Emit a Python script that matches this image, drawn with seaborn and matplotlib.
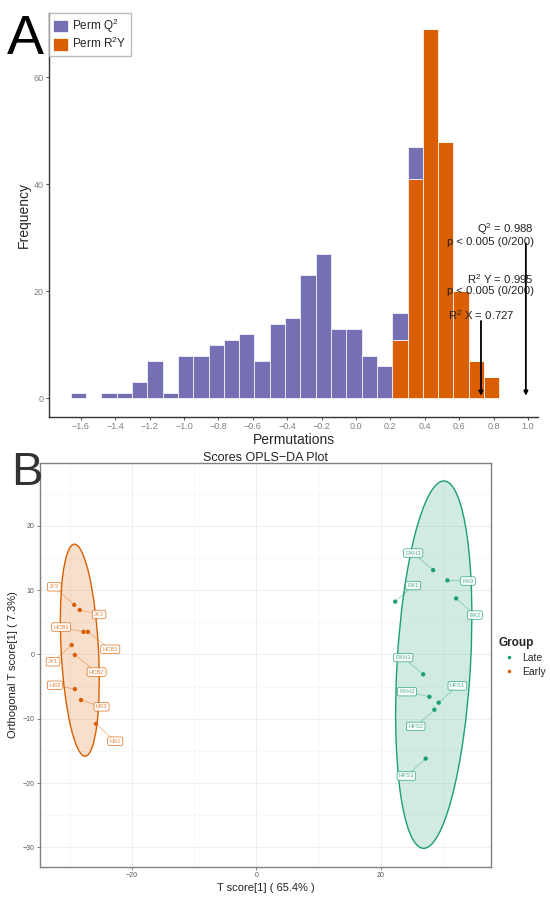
import numpy as np
import pandas as pd
import matplotlib
matplotlib.use("Agg")
import matplotlib.pyplot as plt
from matplotlib.patches import Ellipse
import seaborn as sns

# ── Panel A data: permutation test histogram ──────────────
bin_lo, bin_hi, n_bins = -1.658, 0.834, 28
perm_q2 = [1, 0, 1, 1, 3, 7, 1, 8, 8, 10, 11, 12, 7, 14, 15, 23, 27, 13, 13, 8, 6,
           5, 6, 0, 0, 0, 0, 0]
perm_r2y = [0] * 21 + [11, 41, 69, 48, 20, 7, 4]
q2_value, r2y_value, r2x_value = 0.988, 0.995, 0.727
perm_labels = ["Perm Q$^2$", "Perm R$^2$Y"]

# ── Panel B data: OPLS-DA scores ──────────────────────────
sample_names = ["JY3", "JY2", "HCB3", "HCB1", "JY1", "HCB2", "HS2", "HS3", "HS1",
                "RXH3", "RX3", "RX1", "RX2", "RXH1", "RXH2", "HFS1", "HFS2", "HFS3"]
t_score = [-29.3, -28.4, -27.8, -27.1, -29.7, -29.2, -29.2, -28.2, -25.8,
           28.4, 30.7, 22.3, 32.1, 26.8, 27.8, 29.3, 28.6, 27.2]
ortho_score = [7.7, 6.9, 3.5, 3.5, 1.45, -0.1, -5.4, -7.1, -10.8,
               13.1, 11.5, 8.2, 8.7, -3.1, -6.6, -7.5, -8.6, -16.2]
groups = ["Early"] * 9 + ["Late"] * 9
label_x = [-32.5, -25.3, -31.4, -23.5, -32.7, -25.7, -32.4, -24.9, -22.7,
           25.2, 34.0, 25.2, 35.1, 23.6, 24.2, 32.3, 25.6, 24.1]
label_y = [10.5, 6.2, 4.25, 0.8, -1.15, -2.75, -4.8, -8.15, -13.5,
           15.75, 11.4, 10.7, 6.1, -0.5, -5.8, -4.9, -11.2, -18.9]
# ellipse: centre x, centre y, full width, full height, angle
ellipse_early = (-28.4, 0.65, 6.0, 33.0, 3.1)
ellipse_late = (28.5, -1.6, 11.8, 57.2, -3.4)

ORANGE, GREEN, PURPLE = "#D95F02", "#1B9E77", "#7570B3"

sns.set_theme(style="white")
plt.rcParams["font.family"] = ["Liberation Sans", "DejaVu Sans"]
plt.rcParams["mathtext.default"] = "regular"

fig = plt.figure(figsize=(5.5, 8.97), dpi=100)

# ── Panel A ───────────────────────────────────────────────
axA = fig.add_axes([0.0896, 0.5355, 0.8884, 0.4503])
edges = np.linspace(bin_lo, bin_hi, n_bins + 1)
centres = (edges[:-1] + edges[1:]) / 2
hist_df = pd.DataFrame({
    "value": np.concatenate([centres, centres]),
    "count": perm_q2 + perm_r2y,
    "type": [perm_labels[0]] * n_bins + [perm_labels[1]] * n_bins,
})
sns.histplot(data=hist_df, x="value", weights="count", hue="type",
             bins=[float(e) for e in edges],
             multiple="stack", hue_order=perm_labels, palette=[PURPLE, ORANGE],
             alpha=1, edgecolor="white", linewidth=0.5, ax=axA)

axA.set_xlim(-1.783, 1.058)
axA.set_ylim(-3.4, 72.1)
xt = np.round(np.arange(-1.6, 1.01, 0.2), 1) + 0.0
axA.set_xticks(xt)
axA.set_xticklabels([f"{abs(t):.1f}" if abs(t) < 1e-9 else f"{t:.1f}".replace("-", "\u2212")
                     for t in xt])
axA.set_yticks([0, 20, 40, 60])
axA.tick_params(axis="both", labelsize=6.5, labelcolor="#7F7F7F", length=2,
                width=0.6, color="#333333", bottom=True, left=True, pad=2)
for side in ["top", "right"]:
    axA.spines[side].set_visible(False)
for side in ["left", "bottom"]:
    axA.spines[side].set_color("#333333")
    axA.spines[side].set_linewidth(1.0)
axA.set_xlabel("Permutations", fontsize=10, labelpad=1)
axA.set_ylabel("Frequency", fontsize=10, labelpad=2)

leg = axA.get_legend()
handles = leg.legend_handles
leg.remove()
axA.legend(handles, perm_labels, loc="upper left", bbox_to_anchor=(0, 1.0),
           fontsize=8.5, frameon=True, fancybox=False, edgecolor="#AAAAAA",
           borderaxespad=0, handlelength=1.2, handleheight=1.2, handletextpad=0.4,
           labelspacing=0.1, borderpad=0.35)

txt_kw = dict(fontsize=8.2, color="#222222", va="center")
axA.text(1.035, 31.7, f"Q$^2$ = {q2_value}", ha="right", **txt_kw)
axA.text(1.035, 29.3, "p < 0.005 (0/200)", ha="right", **txt_kw)
axA.text(1.035, 22.4, f"R$^2$ Y = {r2y_value}", ha="right", **txt_kw)
axA.text(1.035, 20.1, "p < 0.005 (0/200)", ha="right", **txt_kw)
axA.text(r2x_value, 15.5, f"R$^2$ X = {r2x_value}", ha="center", **txt_kw)
arrow_kw = dict(arrowstyle="-|>", color="black", lw=1.3, mutation_scale=6)
axA.annotate("", xy=(r2x_value, 0), xytext=(r2x_value, 15.0), arrowprops=arrow_kw)
axA.annotate("", xy=(q2_value, 0), xytext=(q2_value, 29.5), arrowprops=arrow_kw)

fig.text(0.012, 0.984, "A", fontsize=40, va="top", ha="left", color="black")

# ── Panel B ───────────────────────────────────────────────
axB = fig.add_axes([0.0727, 0.0338, 0.82, 0.4497])
scores = pd.DataFrame({"t": t_score, "o": ortho_score, "Group": groups,
                       "name": sample_names, "lx": label_x, "ly": label_y})
palB = {"Late": GREEN, "Early": ORANGE}

for (cx, cy, w, h, ang), col in [(ellipse_early, ORANGE), (ellipse_late, GREEN)]:
    axB.add_patch(Ellipse((cx, cy), w, h, angle=ang, facecolor=col, alpha=0.2,
                          edgecolor="none", zorder=1))
    axB.add_patch(Ellipse((cx, cy), w, h, angle=ang, facecolor="none",
                          edgecolor=col, lw=1.0, zorder=2))

sns.scatterplot(data=scores, x="t", y="o", hue="Group", hue_order=["Late", "Early"],
                palette=palB, s=10, edgecolor="none", ax=axB, zorder=4)

for _, r in scores.iterrows():
    col = palB[r["Group"]]
    axB.annotate(r["name"], xy=(r["t"], r["o"]), xytext=(r["lx"], r["ly"]),
                 fontsize=4.2, color=col, alpha=0.75, ha="center", va="center",
                 bbox=dict(boxstyle="round,pad=0.3,rounding_size=0.3", fc="white",
                           ec=col, lw=0.5, alpha=0.9),
                 arrowprops=dict(arrowstyle="-", color=col, lw=0.5, alpha=0.5,
                                 shrinkA=0, shrinkB=2), zorder=5)

axB.set_xlim(-34.8, 37.7)
axB.set_ylim(-33.0, 29.7)
axB.set_xticks([-20, 0, 20])
axB.set_yticks([-30, -20, -10, 0, 10, 20])
axB.set_xticks([-30, -10, 10, 30], minor=True)
axB.set_yticks(np.arange(-25, 30, 10), minor=True)
axB.set_xticklabels(["\u221220", "0", "20"])
axB.set_yticklabels(["\u221230", "\u221220", "\u221210", "0", "10", "20"])
axB.grid(True, which="major", color="#EBEBEB", lw=0.6)
axB.grid(True, which="minor", color="#F4F4F4", lw=0.4)
axB.set_axisbelow(True)
axB.tick_params(axis="both", which="major", labelsize=5, labelcolor="#555555",
                length=2, width=0.5, color="#555555", bottom=True, left=True, pad=2)
axB.tick_params(axis="both", which="minor", length=0)
for side in axB.spines.values():
    side.set_color("#7F7F7F")
    side.set_linewidth(1.0)
axB.set_xlabel("T score[1] ( 65.4% )", fontsize=8, color="#222222", labelpad=3)
axB.set_ylabel("Orthogonal T score[1] ( 7.3%)", fontsize=8, color="#222222", labelpad=3)
axB.set_title("Scores OPLS\u2212DA Plot", fontsize=9, color="#222222", pad=2)

lg = axB.legend(title="Group", loc="center left", bbox_to_anchor=(1.0, 0.52),
                frameon=False, fontsize=7.5, title_fontsize=8.5, markerscale=0.8,
                handletextpad=0.3, borderaxespad=0.3, labelspacing=0.4)
lg.get_title().set_fontweight("bold")
lg._legend_box.align = "left"

fig.text(0.02, 0.497, "B", fontsize=34, va="top", ha="left", color="#333333")

fig.savefig("out.png", dpi=100)
